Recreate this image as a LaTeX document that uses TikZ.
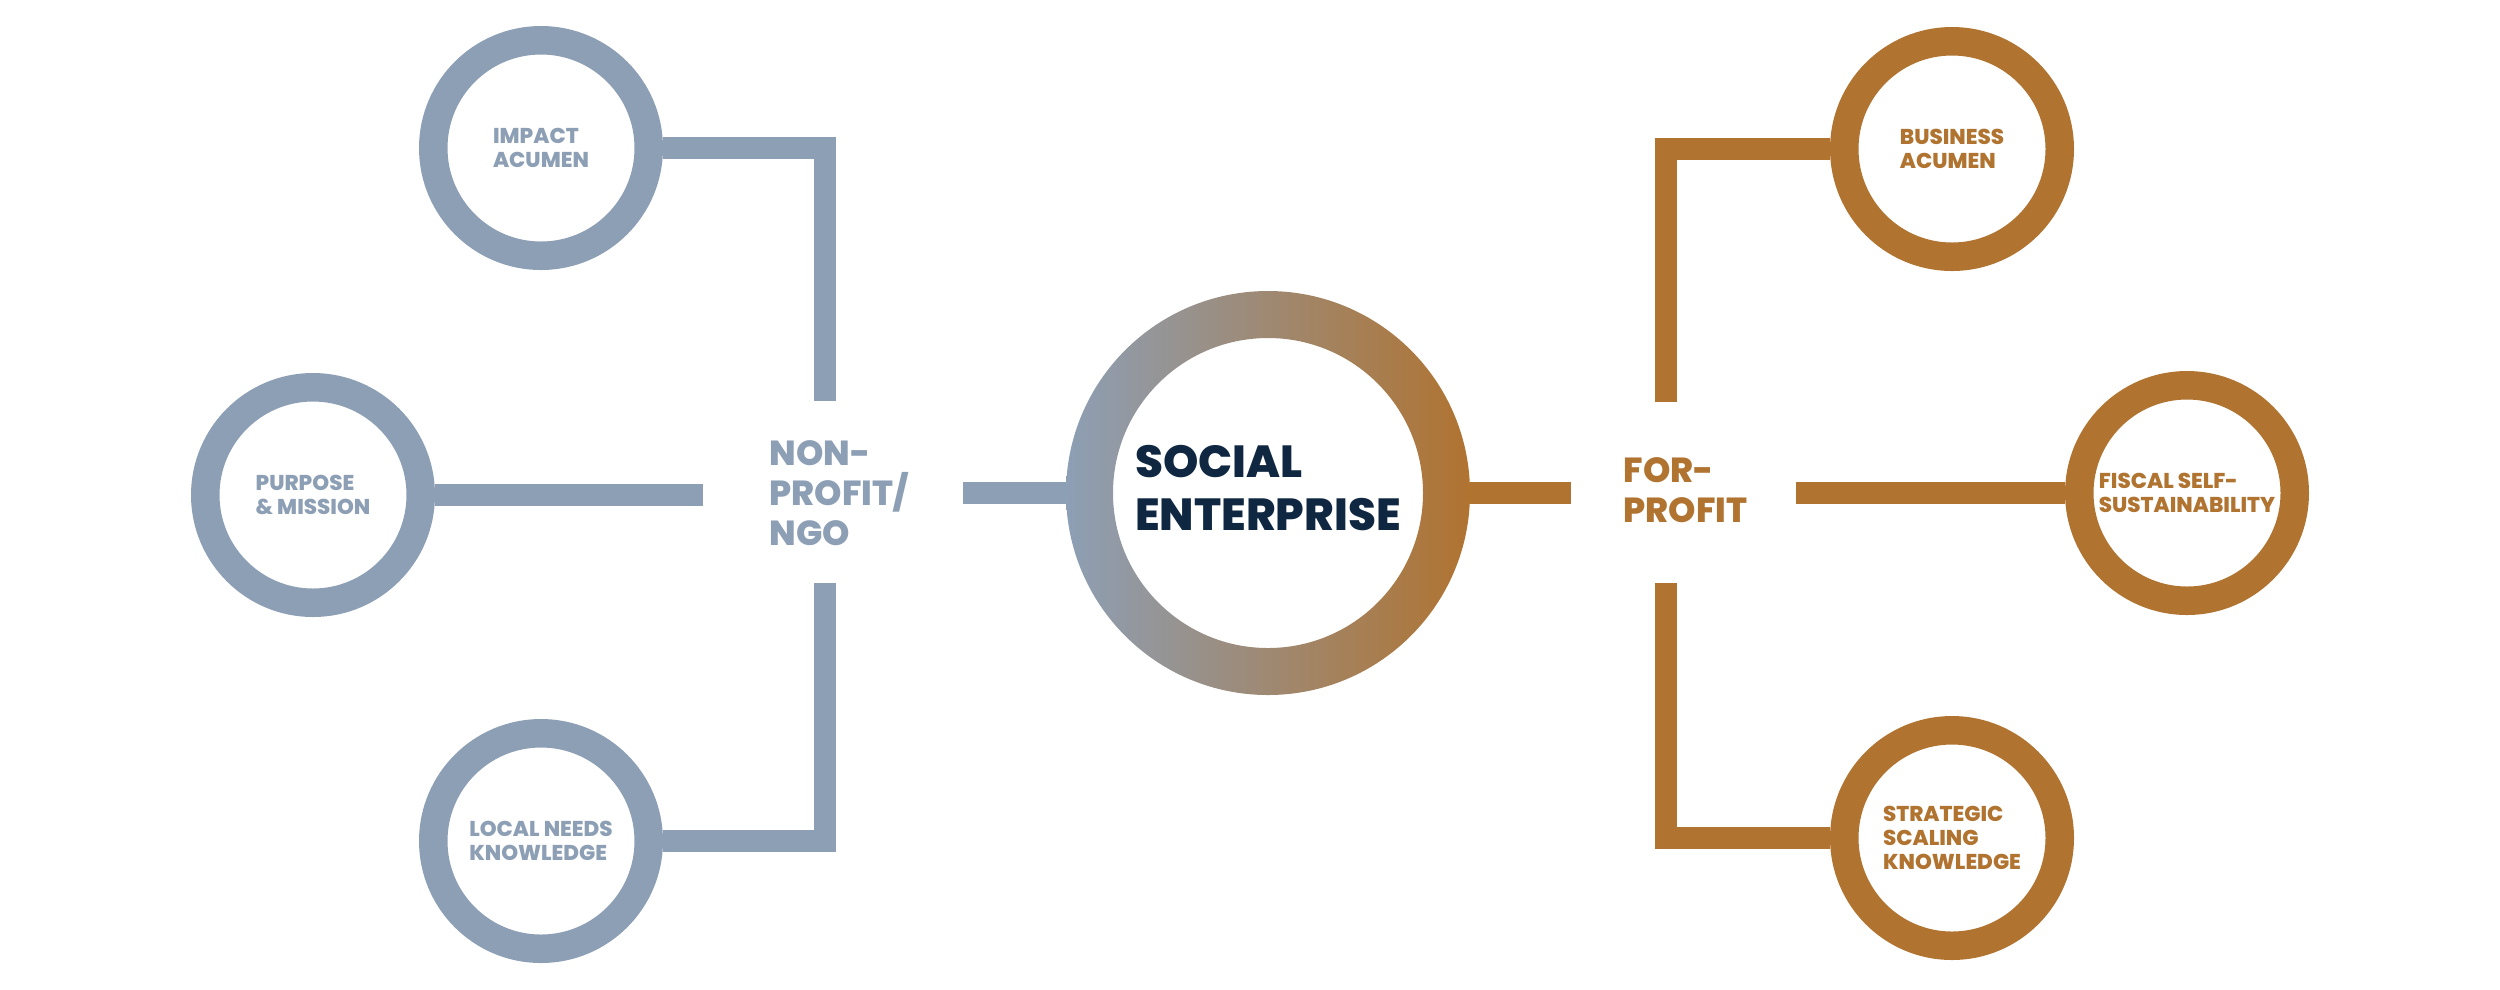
\documentclass[tikz,border=0pt]{standalone}
\usepackage{fontspec}
\setmainfont{Poppins}[BoldFont={* ExtraBold}]
\usetikzlibrary{positioning}
\definecolor{ngoblue}{HTML}{8D9FB5}
\definecolor{fporange}{HTML}{B07330}
\definecolor{senavy}{HTML}{0F2740}
\tikzset{
      ngoring/.style={
        circle,
        draw=ngoblue,
        line width=0.285cm,
        minimum size=2.155cm,
        inner sep=0pt,
        fill=white,
        text=ngoblue,
        align=left,
        font=\fontsize{6.1}{6.8}\selectfont\bfseries
      },
      fpring/.style={ngoring, draw=fporange, text=fporange},
      ngobar/.style={draw=ngoblue, line width=0.22cm, line join=miter},
      fpbar/.style={ngobar, draw=fporange},
      grouplabel/.style={
        anchor=west,
        align=left,
        inner sep=0pt,
        font=\fontsize{9.9}{11.4}\selectfont\bfseries
      },
      hubtext/.style={
        circle,
        minimum size=4.04cm,
        inner sep=0pt,
        outer sep=0pt,
        text=senavy,
        align=left,
        font=\fontsize{12.8}{15.1}\selectfont\bfseries
      }
    }
\begin{document}
\begin{tikzpicture}[x=1cm,y=1cm]
    \useasboundingbox (0,0) rectangle (25,-9.89);
    \node[ngoring] (impact) at (5.41,-1.48) {IMPACT\\ACUMEN};
    \node[ngoring] (purpose) at (3.13,-4.95) {PURPOSE\\\& MISSION};
    \node[ngoring] (local) at (5.41,-8.41) {LOCAL NEEDS\\KNOWLEDGE};
    \node[fpring] (business) at (19.52,-1.49) {BUSINESS\\ACUMEN};
    \node[fpring] (fiscal) at (21.87,-4.93) {FISCAL SELF-\\SUSTAINABILITY};
    \node[fpring] (scaling) at (19.52,-8.38) {STRATEGIC\\SCALING\\KNOWLEDGE};
    \node[grouplabel, text=ngoblue] (ngo) at (7.69,-4.93) {NON-\\PROFIT/\\NGO};
    \node[grouplabel, text=fporange] (forprofit) at (16.23,-4.90) {FOR-\\PROFIT};
    \coordinate (hub) at (12.68,-4.93);
    \shade[left color=ngoblue, right color=fporange, even odd rule] (hub) circle (2.02) (hub) circle (1.55);
    \node[hubtext] (se) at (12.68,-4.88) {SOCIAL\\ENTERPRISE};
    \coordinate (ngotop) at (8.25,-4.01);
    \coordinate (ngobot) at (8.25,-5.83);
    \coordinate (ngoleft) at (7.03,-4.95);
    \coordinate (ngoright) at (9.63,-4.93);
    \coordinate (fptop) at (16.66,-4.02);
    \coordinate (fpbot) at (16.66,-5.83);
    \coordinate (fpleft) at (15.71,-4.93);
    \coordinate (fpright) at (17.96,-4.93);
    \draw[ngobar] (impact.east) -| (ngotop);
    \draw[ngobar] (purpose.east) -- (ngoleft);
    \draw[ngobar] (local.east) -| (ngobot);
    \draw[ngobar] (ngoright) -- (hub -| se.west);
    \draw[fpbar] (hub -| se.east) -- (fpleft);
    \draw[fpbar] (business.west) -| (fptop);
    \draw[fpbar] (fpright) -- (fiscal.west);
    \draw[fpbar] (scaling.west) -| (fpbot);
    \end{tikzpicture}
\end{document}
